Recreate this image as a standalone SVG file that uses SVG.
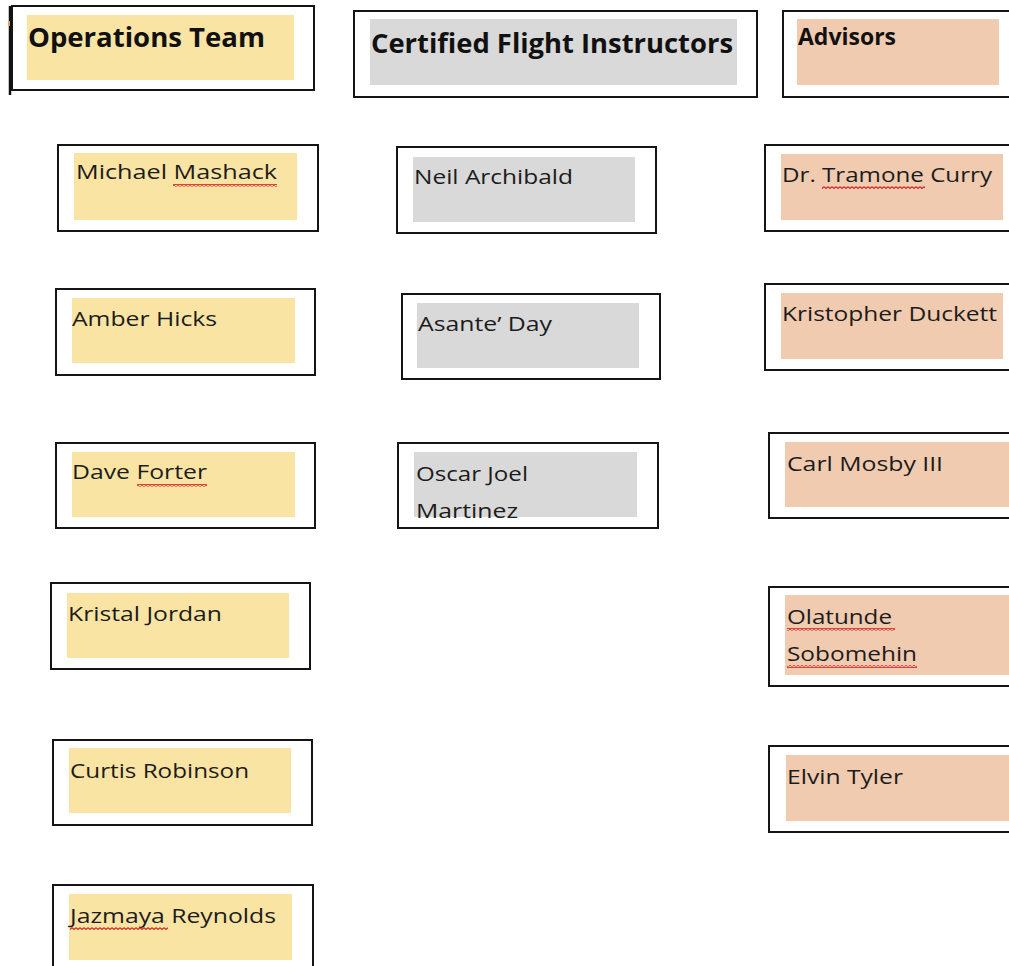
<svg xmlns="http://www.w3.org/2000/svg" width="1009" height="966" viewBox="0 0 1009 966">
<style>
.box{fill:#fff;stroke:#151515;stroke-width:2}
.ops{fill:#FAE4A4}
.cfi{fill:#D9D9D9}
.adv{fill:#F1CBB0}
.t{font-family:"Open Sans","Noto Sans","Liberation Sans",sans-serif;font-size:20px;font-weight:500;fill:#1c1c1c}
.h{font-family:"Open Sans","Noto Sans","Liberation Sans",sans-serif;font-size:26px;font-weight:bold;fill:#111}
.sq{fill:url(#squig)}
</style>
<defs>
<pattern id="squig" patternUnits="userSpaceOnUse" width="4" height="3">
<path d="M0,0.6 L2,2.4 L4,0.6" fill="none" stroke="#D42020" stroke-width="1.2"/>
</pattern>
</defs>
<rect width="1009" height="966" fill="#fff"/>
<g id="connectors"></g>

<g id="ops-header">
<rect class="box" x="12" y="6" width="302" height="84"/>
<line x1="10" y1="6" x2="10" y2="95" stroke="#111" stroke-width="2.5"/>
<rect x="8" y="21" width="2" height="5" fill="#E8A060"/>
<rect class="ops" x="27" y="15" width="267" height="65"/>
<text class="h" x="28" y="47" textLength="237" lengthAdjust="spacingAndGlyphs">Operations Team</text>
</g>
<g id="cfi-header">
<rect class="box" x="354" y="11" width="403" height="86"/>
<rect class="cfi" x="370" y="19" width="367" height="66"/>
<text class="h" x="371" y="53" textLength="362" lengthAdjust="spacingAndGlyphs">Certified Flight Instructors</text>
</g>
<g id="adv-header">
<rect class="box" x="783" y="11" width="240" height="86"/>
<rect class="adv" x="797" y="19" width="202" height="66"/>
<text class="h" x="798" y="45" style="font-size:23px" textLength="98" lengthAdjust="spacingAndGlyphs">Advisors</text>
</g>

<g id="michael-mashack">
<rect class="box" x="58" y="145" width="260" height="86"/>
<rect class="ops" x="74" y="153" width="223" height="67"/>
<text class="t" x="76" y="179" textLength="201" lengthAdjust="spacingAndGlyphs">Michael Mashack</text>
<rect class="sq" x="173" y="184" width="104" height="3"/>
</g>
<g id="amber-hicks">
<rect class="box" x="56" y="289" width="259" height="86"/>
<rect class="ops" x="72" y="298" width="223" height="65"/>
<text class="t" x="72" y="326" textLength="145" lengthAdjust="spacingAndGlyphs">Amber Hicks</text>
</g>
<g id="dave-forter">
<rect class="box" x="56" y="443" width="259" height="85"/>
<rect class="ops" x="72" y="452" width="223" height="65"/>
<text class="t" x="72" y="479" textLength="135" lengthAdjust="spacingAndGlyphs">Dave Forter</text>
<rect class="sq" x="137" y="484" width="70" height="3"/>
</g>
<g id="kristal-jordan">
<rect class="box" x="51" y="583" width="259" height="86"/>
<rect class="ops" x="67" y="593" width="222" height="65"/>
<text class="t" x="68" y="621" textLength="154" lengthAdjust="spacingAndGlyphs">Kristal Jordan</text>
</g>
<g id="curtis-robinson">
<rect class="box" x="53" y="740" width="259" height="85"/>
<rect class="ops" x="69" y="748" width="222" height="65"/>
<text class="t" x="70" y="778" textLength="179" lengthAdjust="spacingAndGlyphs">Curtis Robinson</text>
</g>
<g id="jazmaya-reynolds">
<rect class="box" x="53" y="885" width="260" height="100"/>
<rect class="ops" x="69" y="894" width="223" height="66"/>
<text class="t" x="70" y="923" textLength="206" lengthAdjust="spacingAndGlyphs">Jazmaya Reynolds</text>
<rect class="sq" x="70" y="927" width="98" height="3"/>
</g>

<g id="neil-archibald">
<rect class="box" x="397" y="147" width="259" height="86"/>
<rect class="cfi" x="413" y="157" width="222" height="65"/>
<text class="t" x="414" y="184" textLength="159" lengthAdjust="spacingAndGlyphs">Neil Archibald</text>
</g>
<g id="asante-day">
<rect class="box" x="402" y="294" width="258" height="85"/>
<rect class="cfi" x="417" y="303" width="222" height="65"/>
<text class="t" x="418" y="331" textLength="134" lengthAdjust="spacingAndGlyphs">Asante’ Day</text>
</g>
<g id="oscar-joel-martinez">
<rect class="box" x="398" y="443" width="260" height="85"/>
<rect class="cfi" x="414" y="452" width="223" height="65"/>
<text class="t" x="416" y="481" textLength="112" lengthAdjust="spacingAndGlyphs">Oscar Joel</text>
<text class="t" x="416" y="518" textLength="102" lengthAdjust="spacingAndGlyphs">Martinez</text>
</g>

<g id="tramone-curry">
<rect class="box" x="765" y="145" width="260" height="86"/>
<rect class="adv" x="781" y="154" width="222" height="66"/>
<text class="t" x="782" y="182" textLength="210" lengthAdjust="spacingAndGlyphs">Dr. Tramone Curry</text>
<rect class="sq" x="822" y="186" width="103" height="3"/>
</g>
<g id="kristopher-duckett">
<rect class="box" x="765" y="284" width="260" height="86"/>
<rect class="adv" x="781" y="293" width="222" height="66"/>
<text class="t" x="782" y="321" textLength="215" lengthAdjust="spacingAndGlyphs">Kristopher Duckett</text>
</g>
<g id="carl-mosby">
<rect class="box" x="769" y="433" width="260" height="85"/>
<rect class="adv" x="785" y="442" width="230" height="65"/>
<text class="t" x="787" y="471" textLength="156" lengthAdjust="spacingAndGlyphs">Carl Mosby III</text>
</g>
<g id="olatunde-sobomehin">
<rect class="box" x="769" y="587" width="260" height="99"/>
<rect class="adv" x="785" y="595" width="230" height="80"/>
<text class="t" x="787" y="624" textLength="105" lengthAdjust="spacingAndGlyphs">Olatunde</text>
<rect class="sq" x="787" y="628" width="108" height="3"/>
<text class="t" x="787" y="661" textLength="130" lengthAdjust="spacingAndGlyphs">Sobomehin</text>
<rect class="sq" x="787" y="665" width="130" height="3"/>
</g>
<g id="elvin-tyler">
<rect class="box" x="769" y="746" width="260" height="86"/>
<rect class="adv" x="786" y="755" width="230" height="66"/>
<text class="t" x="787" y="784" textLength="116" lengthAdjust="spacingAndGlyphs">Elvin Tyler</text>
</g>
</svg>
